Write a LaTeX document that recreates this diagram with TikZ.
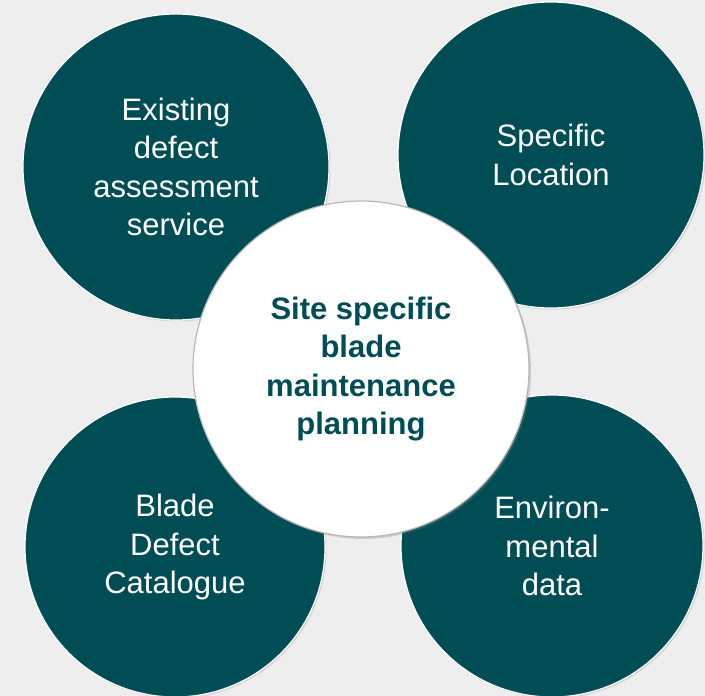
\documentclass[tikz,border=0pt]{standalone}
\usepackage{fontspec}
\setmainfont{Liberation Sans}
\usetikzlibrary{shadows}
\definecolor{bladeTeal}{RGB}{0,77,85}
\definecolor{bladeBack}{RGB}{238,238,238}
\definecolor{bladeRim}{RGB}{185,185,185}

\begin{document}
\begin{tikzpicture}[x=1pt, y=-1pt,
    topic/.style={circle, draw=white, line width=1.2pt, fill=bladeTeal, text=white,
        minimum size=306pt, inner sep=0pt, align=center,
        font=\fontsize{31}{38.3}\selectfont,
        drop shadow={opacity=0.25, shadow xshift=1.5pt, shadow yshift=-1.5pt}},
    hub/.style={circle, draw=bladeRim, line width=1.2pt, fill=white, text=bladeTeal,
        minimum size=336pt, inner sep=0pt, align=center,
        font=\fontsize{31}{38.5}\selectfont\bfseries,
        drop shadow={opacity=0.3, shadow xshift=2pt, shadow yshift=-2pt}}]
    \fill[bladeBack] (0,0) rectangle (705,696);
    \useasboundingbox (0,0) rectangle (705,696);
    % outer topics
    \node[topic] (defect) at (176,167) {Existing\\defect\\assessment\\service};
    \node[topic] (location) at (551,155) {Specific\\Location};
    \node[topic, minimum size=300pt] (catalogue) at (175,547) {Blade\\Defect\\Catalogue};
    \node[topic, minimum size=302pt] (environ) at (552,546) {Environ-\\mental\\data};
    % planning hub on top
    \node[hub] (planning) at (361,369) {Site specific\\blade\\maintenance\\planning};
\end{tikzpicture}
\end{document}
